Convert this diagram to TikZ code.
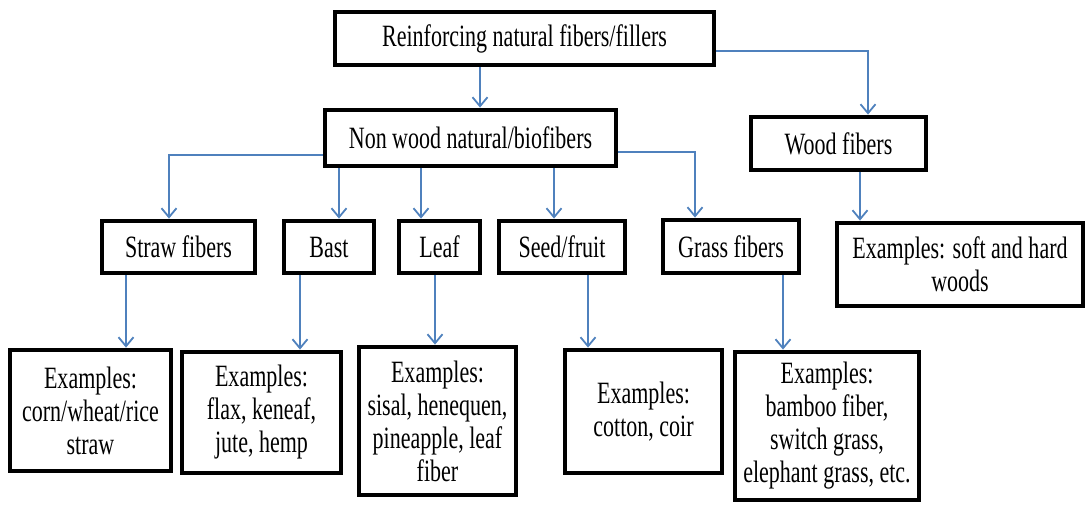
\documentclass[tikz,border=0pt]{standalone}
\usepackage{fontspec}
\setmainfont{Liberation Serif}[FakeStretch=0.71]
\usetikzlibrary{arrows.meta}
\definecolor{linkblue}{HTML}{4F81BD}
\tikzset{
    fiberbox/.style={draw, line width=4.8pt, inner sep=2pt, align=center,
        font=\fontsize{31}{33}\selectfont},
    arr/.style={draw=linkblue, line width=1.8pt, -{Straight Barb[length=9pt,width=15pt]}}
}
% vertical link from node #1 down to node #2 at x = #3
\newcommand{\dropline}[3]{
    \draw[arr] (#1.south -| #3,0) -- (#2.north -| #3,0);
}
\begin{document}
\begin{tikzpicture}[x=1pt, y=-1pt]
        \useasboundingbox (0,0) rectangle (1089,504);

        % Nodes
        \node[fiberbox, minimum width=379, minimum height=53] (top) at (524.5,38.5) {Reinforcing natural fibers/fillers};
        \node[fiberbox, minimum width=291, minimum height=56] (nonwood) at (470.5,138) {Non wood natural/biofibers};
        \node[fiberbox, minimum width=175, minimum height=53] (wood) at (838.5,143.5) {Wood fibers};

        \node[fiberbox, minimum width=153, minimum height=52] (straw) at (178.5,247) {Straw fibers};
        \node[fiberbox, minimum width=90, minimum height=52] (bast) at (329,247) {Bast};
        \node[fiberbox, minimum width=81, minimum height=52] (leaf) at (439.5,247) {Leaf};
        \node[fiberbox, minimum width=126, minimum height=52] (seed) at (562,247) {Seed/fruit};
        \node[fiberbox, minimum width=136, minimum height=53] (grass) at (731,246.5) {Grass fibers};
        \node[fiberbox, minimum width=246, minimum height=83] (woodex) at (960,264.5) {Examples: soft and hard\\woods};

        \node[fiberbox, minimum width=161, minimum height=121] (strawex) at (90.5,410.5) {Examples:\\corn/wheat/rice\\straw};
        \node[fiberbox, minimum width=159, minimum height=121] (bastex) at (261.5,412.5) {Examples:\\flax, keneaf,\\jute, hemp};
        \node[fiberbox, minimum width=157, minimum height=148] (leafex) at (437.5,421) {Examples:\\sisal, henequen,\\pineapple, leaf\\fiber};
        \node[fiberbox, minimum width=157, minimum height=123] (seedex) at (643.5,411.5) {Examples:\\cotton, coir};
        \node[fiberbox, minimum width=184, minimum height=148] (grassex) at (827,426) {Examples:\\bamboo fiber,\\switch grass,\\elephant grass, etc.};

        % Edges
        \dropline{top}{nonwood}{480}
        \draw[arr] (top.east |- 0,51) -| (wood.north -| 868,0);
        \draw[arr] (nonwood.west |- 0,155) -| (straw.north -| 169,0);
        \draw[arr] (nonwood.east |- 0,152) -| (grass.north -| 695,0);
        \dropline{nonwood}{bast}{339}
        \dropline{nonwood}{leaf}{421}
        \dropline{nonwood}{seed}{554}
        \dropline{wood}{woodex}{860}

        \dropline{straw}{strawex}{126}
        \dropline{bast}{bastex}{300}
        \dropline{leaf}{leafex}{435}
        \dropline{seed}{seedex}{588}
        \dropline{grass}{grassex}{783}

    \end{tikzpicture}
\end{document}
